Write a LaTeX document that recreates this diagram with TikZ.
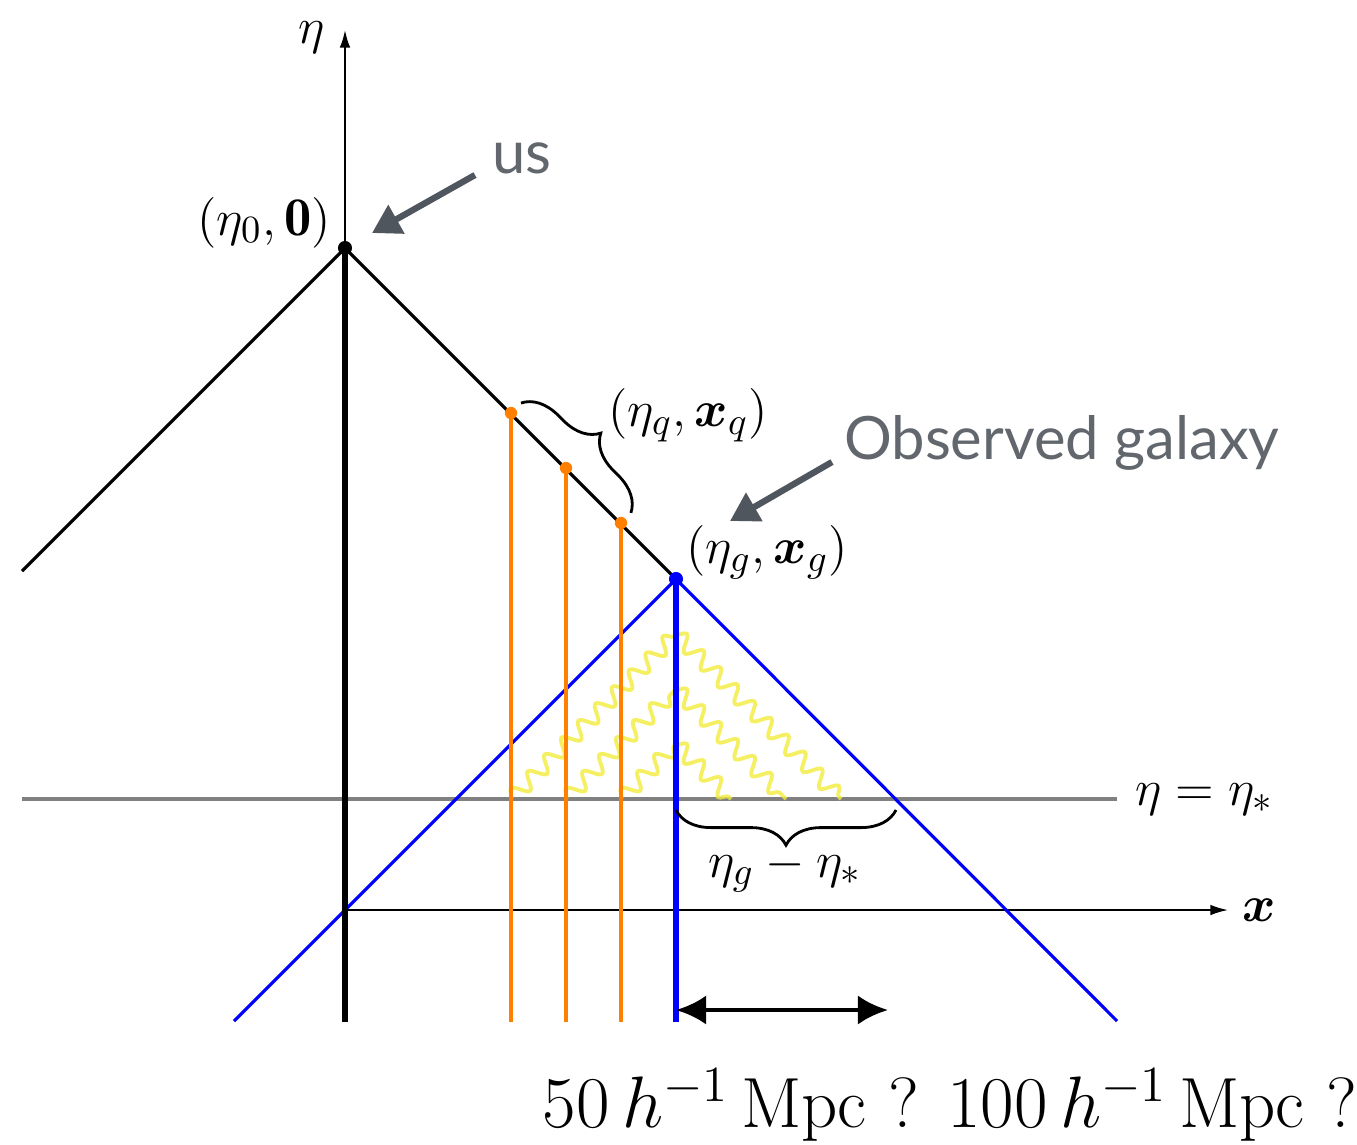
\documentclass[tikz,border=0pt]{standalone}
\usepackage{amsmath}
\usepackage{amssymb}
\usepackage{fontspec}
\newfontfamily\callfont{Lato}
\usepackage{tikz}
\usetikzlibrary{arrows.meta,positioning,calc,decorations.pathreplacing,
                decorations.pathmorphing}
\definecolor{conecol}{HTML}{0000FF}
\definecolor{quasar}{HTML}{FF8000}
\definecolor{photon}{HTML}{F2EC3C}
\definecolor{slice}{HTML}{808080}
\definecolor{callout}{HTML}{50565D}
\tikzset{
  axis/.style     = {-{Latex[length=5pt,width=3pt]},line width=0.5pt},
  lcone/.style    = {line width=0.9pt},
  wline/.style    = {line width=1.6pt},
  gcone/.style    = {conecol,line width=0.9pt},
  gline/.style    = {conecol,line width=1.9pt},
  qline/.style    = {quasar,line width=0.9pt},
  qdot/.style     = {circle,fill=quasar,inner sep=0pt,minimum size=3.5pt},
  wave/.style     = {photon,opacity=0.8,line width=1.1pt,decorate,
                     decoration={snake,amplitude=2.2pt,segment length=6.8pt}},
  brc/.style      = {line width=0.8pt,decorate,
                     decoration={brace,amplitude=10pt}},
  lbl/.style      = {font=\fontsize{15.5}{18}\selectfont,inner sep=1pt},
  call/.style     = {font=\callfont\fontsize{17}{20}\selectfont,text=callout!90},
  callarr/.style  = {-{Triangle[length=8pt,width=9pt]},line width=1.8pt,
                     draw=callout},
  span/.style     = {{Latex[length=8.6pt,width=8.4pt]}-{Latex[length=8.6pt,width=8.4pt]},
                     line width=1.4pt},
}
\begin{document}
\begin{tikzpicture}[x=0.01cm,y=-0.01cm]
  \useasboundingbox (0,0) rectangle (1357,1144);
  \coordinate (o)   at (345,910);
  \coordinate (us)  at (345,248);
  \coordinate (gal) at (676,579);
  \coordinate (q1)  at (511,413);
  \coordinate (q2)  at (566,468);
  \coordinate (q3)  at (621,523);
  \coordinate (bot) at (0,1022);
  \coordinate (sl)  at (22,799);
  \coordinate (sr)  at (1117,799);
  % axes
  \draw[axis] (o) -- (345,30) coordinate (etatip);
  \draw[axis] (o) -- (1228,910) coordinate (xtip);
  \node[lbl] at (312,38) {$\eta$};
  \node[lbl,right=3pt of xtip] (xl) {$\boldsymbol{x}$};
  % constant time slice
  \draw[slice,line width=0.9pt] (sl) -- (sr);
  \node[lbl,right=4pt of sr] {$\eta=\eta_*$};
  % photons
  \foreach \q/\d in {q1/165,q2/110,q3/55}{
    \draw[wave] (\q |- sl) -- ($(gal |- sl)+(0,-\d)$);
    \draw[wave] ($(gal |- sl)+(0,-\d)$) -- ($(gal |- sl)+(\d,0)$);
  }
  % past light cones
  \draw[lcone] (22,571) -- (us) -- (gal);
  \draw[gcone] (234,1021) -- (gal) -- (1117,1021);
  \foreach \q in {q1,q2,q3}{
    \draw[qline] (\q) -- (\q |- bot);
    \node[qdot] at (\q) {};
  }
  \draw[wline] (us) -- (us |- bot);
  \draw[gline] (gal) -- (gal |- bot);
  \fill (us) circle (2pt);
  \fill[conecol] (gal) circle (2pt);
  \node[lbl,anchor=south east] at ($(us)+(-10,4)$) {$(\eta_0,\mathbf{0})$};
  \node[lbl,anchor=south west] at ($(gal)+(6,4)$) {$(\eta_g,\boldsymbol{x}_g)$};
  \draw[brc] ($(q1)+(10,-10)$) -- ($(q3)+(10,-10)$) coordinate (qb);
  \node[lbl] at (688,415) {$(\eta_q,\boldsymbol{x}_q)$};
  \draw[brc] (896,810) -- (gal |- 0,810);
  \node[lbl] at (785,870) {$\eta_g-\eta_*$};
  % callouts
  \node[call] (usl) at (522,158) {us};
  \draw[callarr] (475,175) -- (372,233);
  \node[call] (gl) at (1062,443) {Observed galaxy};
  \draw[callarr] (832,462) -- (730,521);
  % scale
  \draw[span] (gal |- 0,1010) -- (888,1010);
  \node[font=\fontsize{20.2}{24}\selectfont] at (950,1105)
    {$50\,h^{-1}\,\mathrm{Mpc}$ ? $100\,h^{-1}\,\mathrm{Mpc}$ ?};
\end{tikzpicture}
\end{document}
